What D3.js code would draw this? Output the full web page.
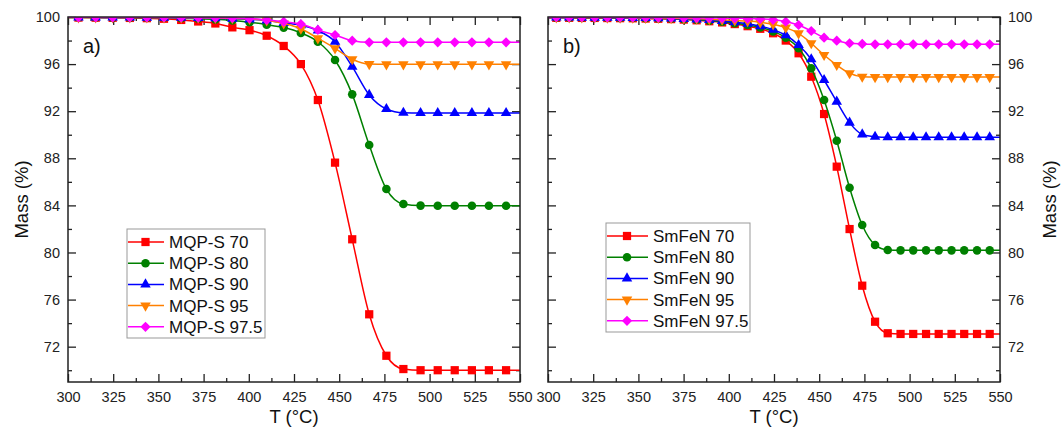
<!DOCTYPE html>
<html>
<head>
<meta charset="utf-8">
<script src="https://cdn.jsdelivr.net/npm/d3@7"></script>
<style>
  body { margin: 0; background: #fff; }
  svg { font-family: "Liberation Sans", Arial, sans-serif; }
</style>
</head>
<body>
<svg id="chart" width="1061" height="436"></svg>
<script>
// ---- data ----
// panel a) marker temperatures (first and last entries are the curve ends, no marker)
const tempsA = [300, 305.8, 315.3, 324.7, 334.2, 343.6, 353.1, 362.6, 372.0, 381.5, 390.9, 400.4, 409.9, 419.3,
  428.8, 438.2, 447.7, 457.2, 466.6, 476.1, 485.5, 495.0, 504.5, 513.9, 523.4, 532.8, 542.3, 550];
const mqp70 = [99.95, 99.95, 99.94, 99.93, 99.92, 99.9, 99.85, 99.75, 99.62, 99.45, 99.12, 98.88, 98.41, 97.54,
  96.0, 92.95, 87.63, 81.12, 74.75, 71.23, 70.1, 70.0, 70.0, 70.0, 70.0, 70.0, 70.0, 70.0];
const mqp80 = [99.96, 99.96, 99.96, 99.95, 99.95, 99.94, 99.93, 99.9, 99.86, 99.8, 99.7, 99.55, 99.35, 99.1,
  98.65, 97.9, 96.35, 93.43, 89.13, 85.39, 84.12, 83.98, 83.97, 83.97, 83.97, 83.97, 83.97, 83.97];
const mqp90 = [99.97, 99.97, 99.97, 99.96, 99.96, 99.95, 99.95, 99.94, 99.92, 99.9, 99.86, 99.8, 99.7, 99.5,
  99.3, 98.85, 97.9, 95.78, 93.38, 92.19, 91.87, 91.85, 91.85, 91.85, 91.85, 91.85, 91.85, 91.85];
const mqp95 = [99.97, 99.97, 99.97, 99.97, 99.96, 99.96, 99.95, 99.95, 99.94, 99.92, 99.89, 99.84, 99.72, 99.45,
  99.0, 98.19, 97.34, 96.41, 96.0, 95.98, 95.98, 95.98, 95.98, 95.98, 95.98, 95.98, 95.98, 95.98];
const mqp975 = [99.97, 99.97, 99.97, 99.97, 99.97, 99.97, 99.96, 99.96, 99.95, 99.94, 99.92, 99.88, 99.75, 99.6,
  99.4, 98.9, 98.47, 97.99, 97.85, 97.85, 97.85, 97.85, 97.85, 97.85, 97.85, 97.85, 97.85, 97.85];

// panel b)
const tempsB = [300, 304.6, 311.7, 318.7, 325.8, 332.8, 339.9, 346.9, 354.0, 361.0, 368.1, 375.1, 382.2, 389.2,
  396.3, 403.3, 410.4, 417.4, 424.5, 431.5, 438.6, 445.6, 452.7, 459.7, 466.8, 473.8, 480.9, 487.9, 495.0,
  502.0, 509.1, 516.1, 523.2, 530.2, 537.3, 544.3, 550];
const smfen70 = [99.93, 99.93, 99.93, 99.92, 99.92, 99.91, 99.9, 99.89, 99.87, 99.85, 99.82, 99.78, 99.72, 99.64,
  99.54, 99.4, 99.22, 99.0, 98.62, 98.0, 96.92, 94.93, 91.76, 87.29, 81.99, 77.18, 74.12, 73.14, 73.08,
  73.08, 73.08, 73.08, 73.08, 73.08, 73.08, 73.08, 73.08];
const smfen80 = [99.95, 99.95, 99.95, 99.94, 99.94, 99.93, 99.92, 99.91, 99.9, 99.88, 99.85, 99.81, 99.76, 99.69,
  99.6, 99.48, 99.33, 99.12, 98.78, 98.25, 97.34, 95.64, 92.95, 89.49, 85.5, 82.33, 80.64, 80.21, 80.18,
  80.18, 80.18, 80.18, 80.18, 80.18, 80.18, 80.18, 80.18];
const smfen90 = [99.96, 99.96, 99.96, 99.95, 99.95, 99.94, 99.93, 99.92, 99.91, 99.89, 99.87, 99.84, 99.8, 99.74,
  99.66, 99.56, 99.42, 99.22, 98.92, 98.45, 97.62, 96.41, 94.65, 92.81, 91.03, 90.03, 89.83, 89.78, 89.78,
  89.78, 89.78, 89.78, 89.78, 89.78, 89.78, 89.78, 89.78];
const smfen95 = [99.97, 99.97, 99.97, 99.96, 99.96, 99.95, 99.95, 99.94, 99.93, 99.92, 99.9, 99.88, 99.85, 99.81,
  99.77, 99.71, 99.65, 99.55, 99.38, 99.1, 98.61, 97.77, 96.77, 95.92, 95.22, 94.93, 94.9, 94.9, 94.9,
  94.9, 94.9, 94.9, 94.9, 94.9, 94.9, 94.9, 94.9];
const smfen975 = [99.98, 99.98, 99.98, 99.98, 99.97, 99.97, 99.97, 99.96, 99.96, 99.95, 99.95, 99.94, 99.93, 99.92,
  99.91, 99.89, 99.87, 99.83, 99.76, 99.6, 99.32, 98.81, 98.24, 97.99, 97.77, 97.71, 97.68, 97.68, 97.68,
  97.68, 97.68, 97.68, 97.68, 97.68, 97.68, 97.68, 97.68];

const namesA = ["MQP-S 70", "MQP-S 80", "MQP-S 90", "MQP-S 95", "MQP-S 97.5"];
const namesB = ["SmFeN 70", "SmFeN 80", "SmFeN 90", "SmFeN 95", "SmFeN 97.5"];
const colors = ["#ff0000", "#008000", "#0000ff", "#ff8000", "#ff00ff"];
const markers = ["square", "circle", "triangle", "triangleDown", "diamond"];

const xTicks = [300, 325, 350, 375, 400, 425, 450, 475, 500, 525, 550];
const xMinor = [312.5, 337.5, 362.5, 387.5, 412.5, 437.5, 462.5, 487.5, 512.5, 537.5];
const yTicks = [72, 76, 80, 84, 88, 92, 96, 100];
const yMinor = [70, 74, 78, 82, 86, 90, 94, 98];

// ---- drawing ----
const svg = d3.select("#chart");
const plotW = 452, plotH = 365, plotTop = 17;
const axisColor = "#222";

// markers/curves are clipped to the plot frame, like the original
svg.append("defs").append("clipPath").attr("id", "plotClip")
  .append("rect").attr("width", plotW).attr("height", plotH);

function markerPath(type) {
  if (type === "square") return d3.symbol(d3.symbolSquare, 68)();
  if (type === "circle") return d3.symbol(d3.symbolCircle, 58)();
  if (type === "triangle" || type === "triangleDown") return d3.symbol(d3.symbolTriangle, 48)();
  return d3.symbol(d3.symbolSquare, 52)(); // rotated to a diamond
}
function markerRotate(type) {
  if (type === "triangleDown") return 180;
  if (type === "diamond") return 45;
  return 0;
}

function styleAxis(sel) {
  sel.select(".domain").remove();
  sel.selectAll("line").attr("stroke", axisColor).attr("stroke-width", 1.3);
  sel.selectAll("text").attr("fill", axisColor).attr("font-size", 14.5);
}

function drawPanel(left, temps, series, names, opts) {
  const g = svg.append("g").attr("transform", `translate(${left},${plotTop})`);
  const x = d3.scaleLinear().domain([300, 550]).range([0, plotW]);
  const y = d3.scaleLinear().domain([69, 100]).range([plotH, 0]);

  // bottom axis (labels), top axis (ticks only)
  g.append("g").attr("transform", `translate(0,${plotH})`)
    .call(d3.axisBottom(x).tickValues(xTicks).tickSize(-8).tickSizeOuter(0).tickPadding(10).tickFormat(d3.format("d")))
    .call(styleAxis);
  g.append("g").attr("transform", `translate(0,${plotH})`)
    .call(d3.axisBottom(x).tickValues(xMinor).tickSize(-4).tickSizeOuter(0).tickFormat(""))
    .call(styleAxis);
  g.append("g")
    .call(d3.axisTop(x).tickValues(xTicks).tickSize(-8).tickSizeOuter(0).tickFormat(""))
    .call(styleAxis);
  g.append("g")
    .call(d3.axisTop(x).tickValues(xMinor).tickSize(-4).tickSizeOuter(0).tickFormat(""))
    .call(styleAxis);

  // left & right axes
  const leftAxis = d3.axisLeft(y).tickValues(yTicks).tickSize(-8).tickSizeOuter(0).tickPadding(8);
  const rightAxis = d3.axisRight(y).tickValues(yTicks).tickSize(-8).tickSizeOuter(0).tickPadding(8);
  if (opts.labelsRight) leftAxis.tickFormat(""); else rightAxis.tickFormat("");
  g.append("g").call(leftAxis).call(styleAxis);
  g.append("g").call(d3.axisLeft(y).tickValues(yMinor).tickSize(-4).tickSizeOuter(0).tickFormat("")).call(styleAxis);
  g.append("g").attr("transform", `translate(${plotW},0)`).call(rightAxis).call(styleAxis);
  g.append("g").attr("transform", `translate(${plotW},0)`)
    .call(d3.axisRight(y).tickValues(yMinor).tickSize(-4).tickSizeOuter(0).tickFormat("")).call(styleAxis);

  // curves
  const plot = g.append("g").attr("clip-path", "url(#plotClip)");
  const line = d3.line().x(d => x(d[0])).y(d => y(d[1])).curve(d3.curveMonotoneX);
  series.forEach((vals, i) => {
    const pts = temps.map((t, j) => [t, vals[j]]);
    plot.append("path").datum(pts)
      .attr("fill", "none").attr("stroke", colors[i]).attr("stroke-width", 1.5)
      .attr("d", line);
    plot.append("g").selectAll("path")
      .data(pts.slice(1, pts.length - 1))
      .enter().append("path")
      .attr("d", markerPath(markers[i]))
      .attr("fill", colors[i])
      .attr("transform", d => `translate(${x(d[0])},${y(d[1])}) rotate(${markerRotate(markers[i])})`);
  });

  // frame
  g.append("rect").attr("width", plotW).attr("height", plotH)
    .attr("fill", "none").attr("stroke", axisColor).attr("stroke-width", 1.5);

  // panel label
  g.append("text").attr("x", 15).attr("y", 36).attr("font-size", 20).attr("fill", "#111").text(opts.tag);

  // x title
  g.append("text").attr("x", plotW / 2).attr("y", 406).attr("text-anchor", "middle")
    .attr("font-size", 18.5).attr("fill", "#111").text("T (°C)");

  // y title
  const yt = opts.labelsRight ? plotW + 56 : -40;
  g.append("text").attr("transform", `translate(${yt},${plotH / 2}) rotate(-90)`)
    .attr("text-anchor", "middle").attr("font-size", 18.5).attr("fill", "#111").text("Mass (%)");

  // legend
  const lg = g.append("g").attr("transform", `translate(${opts.legend[0]},${opts.legend[1]})`);
  lg.append("rect").attr("width", opts.legend[2]).attr("height", opts.legend[3])
    .attr("fill", "#fff").attr("stroke", "#999").attr("stroke-width", 1);
  names.forEach((name, i) => {
    const ry = 13 + i * 21.2;
    lg.append("line").attr("x1", 1).attr("x2", opts.legendLine).attr("y1", ry).attr("y2", ry)
      .attr("stroke", colors[i]).attr("stroke-width", 1.5);
    lg.append("path").attr("d", markerPath(markers[i])).attr("fill", colors[i])
      .attr("transform", `translate(${opts.legendLine / 2},${ry}) rotate(${markerRotate(markers[i])})`);
    lg.append("text").attr("x", opts.legendLine + 5).attr("y", ry).attr("dy", "0.35em")
      .attr("font-size", 17).attr("fill", "#111").text(name);
  });
}

drawPanel(68, tempsA, [mqp70, mqp80, mqp90, mqp95, mqp975], namesA,
  { tag: "a)", labelsRight: false, legend: [59, 212, 138, 109], legendLine: 37 });
drawPanel(548, tempsB, [smfen70, smfen80, smfen90, smfen95, smfen975], namesB,
  { tag: "b)", labelsRight: true, legend: [58, 206, 144, 109], legendLine: 42 });
</script>
</body>
</html>
